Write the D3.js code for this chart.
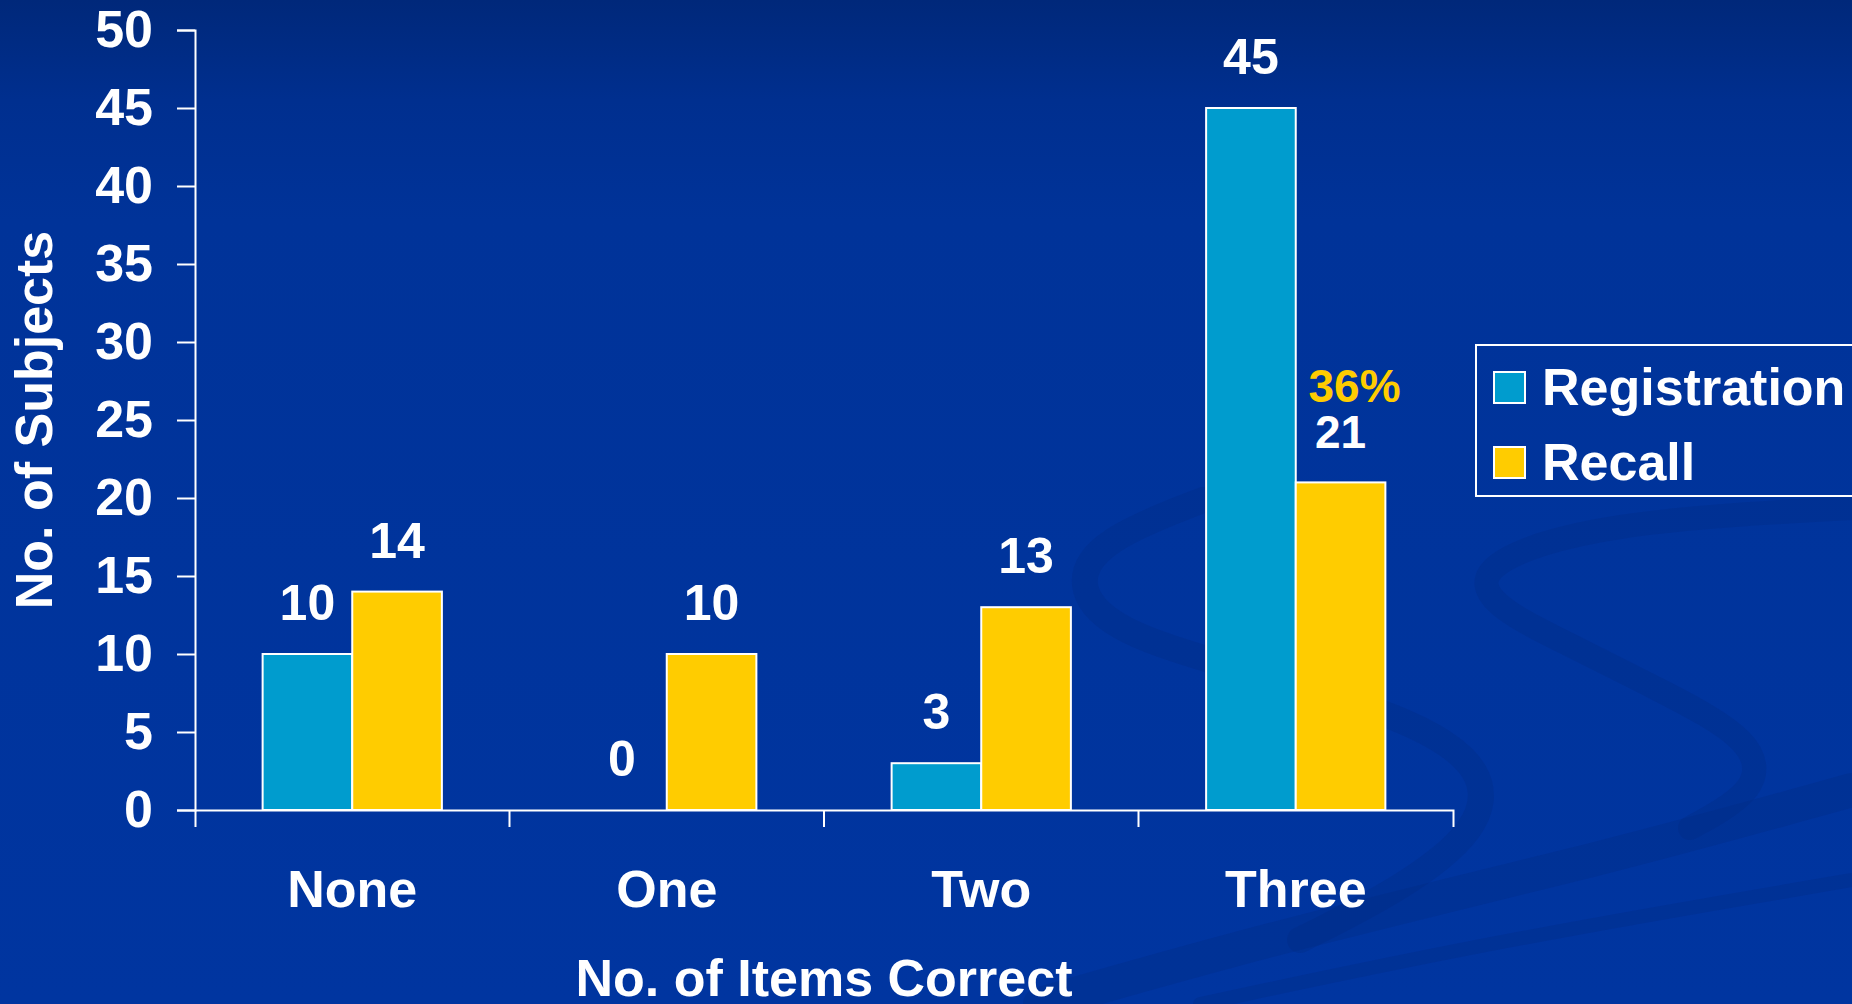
<!DOCTYPE html>
<html>
<head>
<meta charset="utf-8">
<script src="https://cdn.jsdelivr.net/npm/d3@7"></script>
<style>
  html, body { margin: 0; padding: 0; overflow: hidden; background: #003399; }
  text { font-family: "Liberation Sans", Arial, sans-serif; font-weight: bold; }
</style>
</head>
<body>
<div id="plot"></div>
<script>
// data
const categories = ["None", "One", "Two", "Three"];
const seriesNames = ["Registration", "Recall"];
const registration = [10, 0, 3, 45];
const recall = [14, 10, 13, 21];
const yTicks = [0, 5, 10, 15, 20, 25, 30, 35, 40, 45, 50];
const seriesColors = ["#009CCE", "#FFCC00"];
const recallNote = "36%"; // shown above the Three / Recall bar

const w = 1852, h = 1004;
const margin = {top: 30, right: 399, bottom: 194, left: 195};

const svg = d3.select("div#plot")
  .append("svg")
    .attr("width", w)
    .attr("height", h);

// background gradient
const defs = svg.append("defs");
const grad = defs.append("linearGradient")
  .attr("id", "bg").attr("x1", 0).attr("y1", 0).attr("x2", 0).attr("y2", 1);
grad.append("stop").attr("offset", "0%").attr("stop-color", "#00287a");
grad.append("stop").attr("offset", "10%").attr("stop-color", "#002f8f");
grad.append("stop").attr("offset", "22%").attr("stop-color", "#003399");
grad.append("stop").attr("offset", "100%").attr("stop-color", "#0035a0");

svg.append("rect")
  .attr("width", w).attr("height", h)
  .attr("fill", "url(#bg)");

// decorative swirls of the slide template
const swirl = d3.line().curve(d3.curveBasis);
const swirls = [
  {pts: [[1203,500],[1100,540],[1075,585],[1110,628],[1205,660],[1410,716],[1488,770],[1480,830],[1400,890],[1300,940]], sw: 26},
  {pts: [[1852,508],[1600,522],[1475,565],[1490,605],[1560,640],[1660,690],[1755,740],[1760,790],[1690,828]], sw: 24},
  {pts: [[1040,1004],[1300,930],[1600,860],[1852,790]], sw: 34},
  {pts: [[1200,1004],[1500,940],[1852,880]], sw: 14}
];
svg.append("g")
  .selectAll("path")
  .data(swirls)
  .enter().append("path")
    .attr("d", d => swirl(d.pts))
    .attr("fill", "none")
    .attr("stroke", "#002a82")
    .attr("stroke-opacity", 0.3)
    .attr("stroke-width", d => d.sw)
    .attr("stroke-linecap", "round");

const innerWidth = w - margin.left - margin.right;
const innerHeight = h - margin.top - margin.bottom;

const g = svg.append("g")
  .attr("transform", `translate(${margin.left}, ${margin.top})`);

// scales
const x0 = d3.scaleBand()
  .domain(categories)
  .range([0, innerWidth])
  .paddingInner(0.43)
  .paddingOuter(0.215);

const x1 = d3.scaleBand()
  .domain(seriesNames)
  .range([0, x0.bandwidth()]);

const y = d3.scaleLinear()
  .domain([0, 50])
  .range([innerHeight, 0]);

const color = d3.scaleOrdinal().domain(seriesNames).range(seriesColors);

// bars
const table = categories.map((c, i) => ({
  cat: c,
  values: [
    {key: "Registration", value: registration[i]},
    {key: "Recall", value: recall[i]}
  ]
}));

const groups = g.append("g")
  .selectAll("g")
  .data(table)
  .enter().append("g")
    .attr("transform", d => `translate(${x0(d.cat)}, 0)`);

groups.selectAll("rect")
  .data(d => d.values.filter(v => v.value > 0))
  .enter().append("rect")
    .attr("x", d => x1(d.key))
    .attr("y", d => y(d.value))
    .attr("width", x1.bandwidth())
    .attr("height", d => innerHeight - y(d.value))
    .attr("fill", d => color(d.key))
    .attr("stroke", "#ffffff")
    .attr("stroke-width", 2);

// value labels
groups.selectAll("text.val")
  .data(d => d.values.map(v => Object.assign({cat: d.cat}, v)))
  .enter().append("text")
    .attr("class", "val")
    .attr("x", d => x1(d.key) + x1.bandwidth() / 2)
    .attr("y", d => y(d.value) - 34)
    .attr("text-anchor", "middle")
    .attr("fill", "#ffffff")
    .style("font-size", d => (d.cat === "Three" && d.key === "Recall") ? "46px" : "50px")
    .text(d => d.value);

// 36% note above the Three recall bar
g.append("text")
  .attr("x", x0("Three") + x1("Recall") + x1.bandwidth() / 2 + 14)
  .attr("y", y(recall[3]) - 80)
  .attr("text-anchor", "middle")
  .attr("fill", "#FFCC00")
  .style("font-size", "46px")
  .text(recallNote);

// y axis
const yAxis = g.append("g")
  .call(d3.axisLeft(y).tickValues(yTicks).tickSize(18).tickSizeOuter(18).tickPadding(24));
yAxis.select(".domain").attr("stroke", "#fff").attr("stroke-width", 2);
yAxis.selectAll(".tick line").attr("stroke", "#fff").attr("stroke-width", 2);
yAxis.selectAll(".tick text")
  .attr("fill", "#fff")
  .style("font-size", "52px")
  .style("font-family", "Liberation Sans, Arial, sans-serif")
  .style("font-weight", "bold");

// x axis: ticks sit on the category boundaries
const xAxis = g.append("g")
  .attr("transform", `translate(0, ${innerHeight})`)
  .call(d3.axisBottom(x0).tickSize(0).tickSizeOuter(17).tickPadding(60));
xAxis.select(".domain").attr("stroke", "#fff").attr("stroke-width", 2);
xAxis.selectAll(".tick text")
  .attr("fill", "#fff")
  .style("font-size", "52px")
  .style("font-family", "Liberation Sans, Arial, sans-serif")
  .style("font-weight", "bold");

xAxis.selectAll("line.sep")
  .data(categories.slice(1))
  .enter().append("line")
    .attr("class", "sep")
    .attr("x1", d => x0(d) - x0.step() * x0.paddingInner() / 2)
    .attr("x2", d => x0(d) - x0.step() * x0.paddingInner() / 2)
    .attr("y1", 0)
    .attr("y2", 17)
    .attr("stroke", "#fff")
    .attr("stroke-width", 2);

// axis titles
g.append("text")
  .attr("x", innerWidth / 2)
  .attr("y", innerHeight + 186)
  .attr("text-anchor", "middle")
  .attr("fill", "#fff")
  .style("font-size", "52px")
  .text("No. of Items Correct");

g.append("text")
  .attr("transform", "rotate(-90)")
  .attr("x", -(innerHeight / 2) + 0)
  .attr("y", -margin.left + 52)
  .attr("text-anchor", "middle")
  .attr("fill", "#fff")
  .style("font-size", "52px")
  .text("No. of Subjects");

// legend
const legend = svg.append("g")
  .attr("transform", "translate(1476, 345)");

legend.append("rect")
  .attr("width", 420)
  .attr("height", 151)
  .attr("fill", "none")
  .attr("stroke", "#fff")
  .attr("stroke-width", 2);

const items = legend.selectAll("g.item")
  .data(seriesNames)
  .enter().append("g")
    .attr("class", "item")
    .attr("transform", (d, i) => `translate(18, ${27 + i * 75})`);

items.append("rect")
  .attr("width", 31)
  .attr("height", 31)
  .attr("fill", d => color(d))
  .attr("stroke", "#fff")
  .attr("stroke-width", 2);

items.append("text")
  .attr("x", 48)
  .attr("y", 33)
  .attr("fill", "#fff")
  .style("font-size", "52px")
  .text(d => d);
</script>
</body>
</html>
